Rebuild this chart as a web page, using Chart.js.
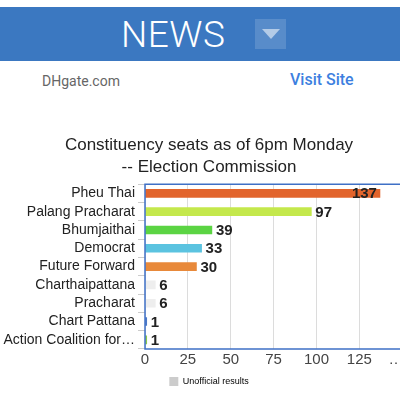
<!DOCTYPE html>
<html>
<head>
<meta charset="utf-8">
<script src="https://cdn.jsdelivr.net/npm/chart.js@4.4.0/dist/chart.umd.min.js"></script>
<style>
  body { margin: 0; background: #fff; width: 400px; height: 393px; overflow: hidden; position: relative; font-family: "Liberation Sans", Arial, sans-serif; }
  .bar { position: absolute; left: 0; top: 7px; width: 400px; height: 54px; background: #3b78c1; }
  .news { position: absolute; left: 121px; top: 6px; color: #fff; font-family: Roboto, sans-serif; font-weight: 300; font-size: 37px; letter-spacing: 0.5px; }
  .drop { position: absolute; left: 255px; top: 12px; width: 31px; height: 30px; background: rgba(255,255,255,0.15); }
  .drop:after { content: ""; position: absolute; left: 7px; top: 10px; border-left: 9px solid transparent; border-right: 9px solid transparent; border-top: 10px solid rgba(255,255,255,0.55); }
  .site { position: absolute; left: 42px; top: 73px; color: #666; font-family: Roboto, sans-serif; font-size: 14px; }
  .visit { position: absolute; left: 290px; top: 70px; color: #3d7fe0; font-family: Roboto, sans-serif; font-size: 16px; font-weight: 500; }
  .wrap { position: absolute; left: 0; top: 128px; width: 400px; height: 265px; overflow: hidden; }
</style>
</head>
<body>
<div class="bar"><div class="news">NEWS</div><div class="drop"></div></div>
<div class="site">DHgate.com</div>
<div class="visit">Visit Site</div>
<div class="wrap"><canvas id="seatsChart" width="418" height="268"></canvas></div>
<script>
// Constituency seats per party
const parties = ['Pheu Thai', 'Palang Pracharat', 'Bhumjaithai', 'Democrat', 'Future Forward',
    'Charthaipattana', 'Pracharat', 'Chart Pattana', 'Action Coalition for\u2026'];
const seats = [137, 97, 39, 33, 30, 6, 6, 1, 1];
const barColors = ['#e2642c', '#c4e84c', '#5bd443', '#5bc3e0', '#e8893a',
    '#eeeeee', '#eeeeee', '#4a78c8', '#8cc84b'];
const xTicks = [0, 25, 50, 75, 100, 125, 150];

const blue = '#3f70c6';

// draws the frame (right side is cut off in the screenshot) and the numbers at the bar ends
const barLabels = {
    id: 'barLabels',
    afterDatasetsDraw(chart) {
        const ctx = chart.ctx;
        const area = chart.chartArea;
        ctx.save();
        ctx.strokeStyle = blue;
        ctx.lineWidth = 1.5;
        ctx.beginPath();
        ctx.moveTo(area.right + 10, area.top);
        ctx.lineTo(area.left, area.top);
        ctx.lineTo(area.left, area.bottom);
        ctx.lineTo(area.right + 10, area.bottom);
        ctx.stroke();
        ctx.font = 'bold 15px "Liberation Sans", Arial, sans-serif';
        ctx.fillStyle = '#222';
        ctx.textBaseline = 'middle';
        chart.getDatasetMeta(0).data.forEach((bar, i) => {
            const txt = String(seats[i]);
            const w = ctx.measureText(txt).width;
            if (bar.x + 4 + w > area.right) {
                ctx.textAlign = 'right';
                ctx.fillText(txt, bar.x - 3, bar.y + 1);
            } else {
                ctx.textAlign = 'left';
                ctx.fillText(txt, bar.x + 4, bar.y + 1);
            }
        });
        ctx.restore();
    }
};

const ctx = document.getElementById('seatsChart').getContext('2d');
new Chart(ctx, {
    type: 'bar',
    data: {
        labels: parties,
        datasets: [{
            label: 'Unofficial results',
            data: seats,
            backgroundColor: barColors,
            barThickness: 8
        }]
    },
    options: {
        indexAxis: 'y',
        responsive: false,
        animation: false,
        layout: { padding: { left: 0, right: 0, top: 0, bottom: 0 } },
        scales: {
            x: {
                min: 0,
                max: 150,
                afterBuildTicks(scale) { scale.ticks = xTicks.map(v => ({ value: v })); },
                grid: {
                    color: '#dcdcdc',
                    lineWidth: (c) => c.tick && c.tick.value === 150 ? 0 : 1,
                    drawTicks: false
                },
                border: { display: false },
                ticks: {
                    padding: 2,
                    color: '#444',
                    font: { size: 15, family: '"Liberation Sans", Arial, sans-serif' },
                    callback: v => v === 150 ? '\u2026   ' : v
                }
            },
            y: {
                afterFit(scale) { scale.width = 145; },
                grid: { drawOnChartArea: false, tickLength: 7, color: '#cccccc' },
                border: { display: false },
                ticks: {
                    autoSkip: false,
                    padding: 3,
                    color: '#222',
                    font: { size: 14, family: '"Liberation Sans", Arial, sans-serif' }
                }
            }
        },
        plugins: {
            title: {
                display: true,
                text: ['Constituency seats as of 6pm Monday', '-- Election Commission'],
                color: '#222',
                font: { size: 17, weight: 'normal', lineHeight: 1.3, family: '"Liberation Sans", Arial, sans-serif' },
                padding: { top: 6, bottom: 6 }
            },
            legend: {
                position: 'bottom',
                labels: {
                    boxWidth: 9,
                    boxHeight: 9,
                    padding: 6,
                    color: '#777',
                    font: { size: 9, family: '"Liberation Sans", Arial, sans-serif' },
                    generateLabels: () => [{ text: 'Unofficial results', fillStyle: '#cccccc', strokeStyle: '#cccccc', lineWidth: 0 }]
                }
            },
            tooltip: { enabled: false }
        }
    },
    plugins: [barLabels]
});
</script>
</body>
</html>
